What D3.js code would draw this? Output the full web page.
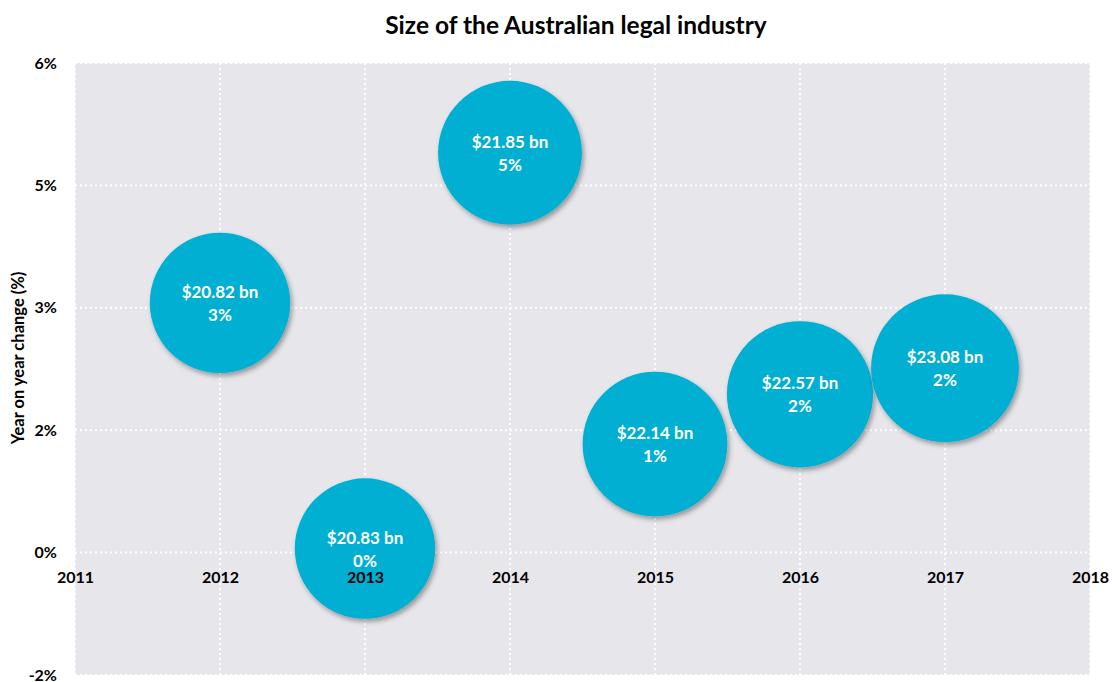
<!DOCTYPE html>
<html>
<head>
<meta charset="utf-8">
<script src="https://cdn.jsdelivr.net/npm/d3@7"></script>
<style>
	body { margin: 0; background: #fff; }
	svg { display: block; font-family: Lato, "Open Sans", sans-serif; }
</style>
</head>
<body>
<svg id="chart"></svg>
<script>
const years = [2012, 2013, 2014, 2015, 2016, 2017];
const sizes = [20.82, 20.83, 21.85, 22.14, 22.57, 23.08];
const growth = [3.06, 0.05, 4.90, 1.33, 1.94, 2.26];
const growthLabels = ["3%", "0%", "5%", "1%", "2%", "2%"];
const xTicks = [2011, 2012, 2013, 2014, 2015, 2016, 2017, 2018];
const yTicks = [-1.5, 0, 1.5, 3, 4.5, 6];
const yTickLabels = ["-2%", "0%", "2%", "3%", "5%", "6%"];

const width = 1112, height = 682;
const margin = {top: 63, right: 22, bottom: 7, left: 75};

const svg = d3.select("#chart")
	.attr("width", width)
	.attr("height", height);

const x = d3.scaleLinear().domain([2011, 2018]).range([margin.left, width - margin.right]);
const y = d3.scaleLinear().domain([-1.5, 6]).range([height - margin.bottom, margin.top]);
const r = d3.scaleSqrt().domain([0, 20.82]).range([0, 70.2]);

const defs = svg.append("defs");
const shadow = defs.append("filter").attr("id", "shadow")
	.attr("x", "-20%").attr("y", "-20%").attr("width", "140%").attr("height", "140%");
shadow.append("feDropShadow")
	.attr("dx", 2).attr("dy", 3).attr("stdDeviation", 2.5)
	.attr("flood-color", "#000").attr("flood-opacity", 0.35);

// plot background
svg.append("rect")
	.attr("x", x(2011)).attr("y", y(6))
	.attr("width", x(2018) - x(2011)).attr("height", y(-1.5) - y(6))
	.attr("fill", "#e7e6eb");

// grid
const grid = svg.append("g")
	.attr("stroke", "#fff")
	.attr("stroke-width", 2)
	.attr("stroke-dasharray", "2,3");

grid.selectAll(".h").data(yTicks).join("line")
	.attr("x1", x(2011)).attr("x2", x(2018))
	.attr("y1", d => y(d)).attr("y2", d => y(d));

grid.selectAll(".v").data(xTicks).join("line")
	.attr("x1", d => x(d)).attr("x2", d => x(d))
	.attr("y1", y(6)).attr("y2", y(-1.5));

// bubbles
const data = years.map((yr, i) => ({yr, size: sizes[i], g: growth[i], label: growthLabels[i]}));

const bubbles = svg.append("g").selectAll("g").data(data).join("g")
	.attr("transform", d => `translate(${x(d.yr)},${y(d.g)})`);

bubbles.append("circle")
	.attr("r", d => r(d.size))
	.attr("fill", "#00afd1")
	.attr("filter", "url(#shadow)");

bubbles.append("text")
	.attr("text-anchor", "middle")
	.attr("y", -5)
	.attr("fill", "#fff")
	.attr("font-weight", "bold")
	.attr("font-size", 17)
	.text(d => `$${d.size.toFixed(2)} bn`);

bubbles.append("text")
	.attr("text-anchor", "middle")
	.attr("y", 18)
	.attr("fill", "#fff")
	.attr("font-weight", "bold")
	.attr("font-size", 17)
	.text(d => d.label);

// x axis labels (crossing at 0)
const xAxis = svg.append("g")
	.attr("transform", `translate(0,${y(0)})`)
	.call(d3.axisBottom(x).tickValues(xTicks).tickFormat(d3.format("d")).tickSize(0).tickPadding(19));
xAxis.select(".domain").remove();
xAxis.selectAll("text")
	.attr("font-family", "Lato, sans-serif")
	.attr("font-size", 16)
	.attr("font-weight", "bold")
	.attr("fill", "#000");

// y axis labels
const yAxis = svg.append("g")
	.attr("transform", `translate(${x(2011)},0)`)
	.call(d3.axisLeft(y).tickValues(yTicks).tickFormat((d, i) => yTickLabels[i]).tickSize(0).tickPadding(18));
yAxis.select(".domain").remove();
yAxis.selectAll("text")
	.attr("font-family", "Lato, sans-serif")
	.attr("font-size", 16)
	.attr("font-weight", "bold")
	.attr("fill", "#000");

// titles
svg.append("text")
	.attr("x", 576).attr("y", 34)
	.attr("text-anchor", "middle")
	.attr("font-size", 24.5)
	.attr("font-weight", "bold")
	.attr("fill", "#000")
	.text("Size of the Australian legal industry");

svg.append("text")
	.attr("transform", `translate(24,${(y(6) + y(-1.5)) / 2 - 11}) rotate(-90)`)
	.attr("text-anchor", "middle")
	.attr("font-size", 16.5)
	.attr("font-weight", "bold")
	.attr("fill", "#000")
	.text("Year on year change (%)");
</script>
</body>
</html>
